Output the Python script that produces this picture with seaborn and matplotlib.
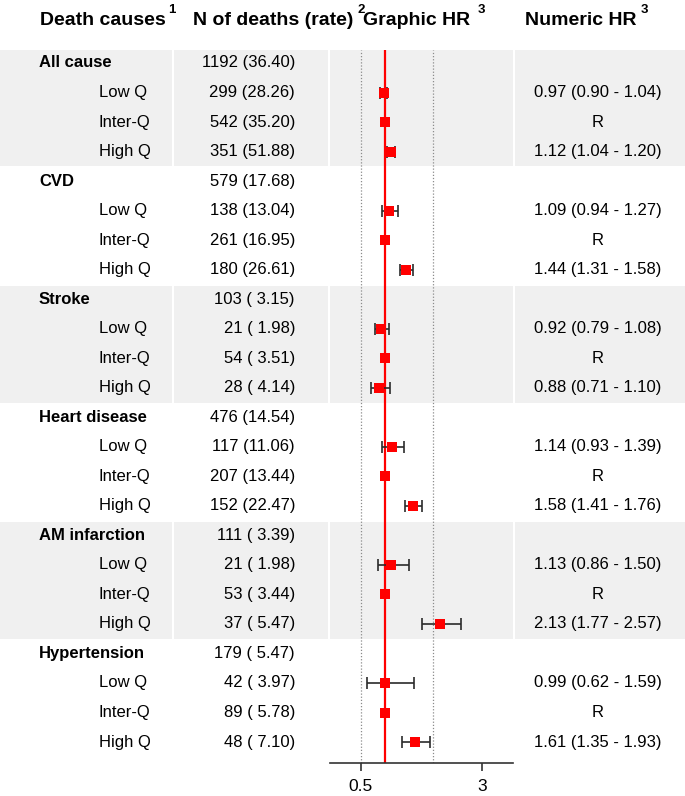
import numpy as np
import pandas as pd
import seaborn as sns
import matplotlib.pyplot as plt

causes = ["All cause", "CVD", "Stroke", "Heart disease", "AM infarction", "Hypertension"]
levels = ["Low Q", "Inter-Q", "High Q"]
cause_deaths = ["1192 (36.40)", "579 (17.68)", "103 ( 3.15)", "476 (14.54)", "111 ( 3.39)", "179 ( 5.47)"]
level_deaths = [
    ["299 (28.26)", "542 (35.20)", "351 (51.88)"],
    ["138 (13.04)", "261 (16.95)", "180 (26.61)"],
    ["21 ( 1.98)", "54 ( 3.51)", "28 ( 4.14)"],
    ["117 (11.06)", "207 (13.44)", "152 (22.47)"],
    ["21 ( 1.98)", "53 ( 3.44)", "37 ( 5.47)"],
    ["42 ( 3.97)", "89 ( 5.78)", "48 ( 7.10)"],
]
# Inter-Q is the reference group (HR = 1)
hr = [[0.97, 1.0, 1.12], [1.09, 1.0, 1.44], [0.92, 1.0, 0.88],
      [1.14, 1.0, 1.58], [1.13, 1.0, 2.13], [0.99, 1.0, 1.61]]
hr_lo = [[0.90, 1.0, 1.04], [0.94, 1.0, 1.31], [0.79, 1.0, 0.71],
         [0.93, 1.0, 1.41], [0.86, 1.0, 1.77], [0.62, 1.0, 1.35]]
hr_hi = [[1.04, 1.0, 1.20], [1.27, 1.0, 1.58], [1.08, 1.0, 1.10],
         [1.39, 1.0, 1.76], [1.50, 1.0, 2.57], [1.59, 1.0, 1.93]]
x_ticks = [0.5, 3]
guide_lines = [0.5, 2]


def build_rows() -> pd.DataFrame:
    rows = []
    for i, cause in enumerate(causes):
        rows.append(dict(label=cause, bold=True, deaths=cause_deaths[i],
                         hr=np.nan, lo=np.nan, hi=np.nan, txt=""))
        for j, lev in enumerate(levels):
            ref = lev == "Inter-Q"
            txt = "R" if ref else f"{hr[i][j]:.2f} ({hr_lo[i][j]:.2f} - {hr_hi[i][j]:.2f})"
            rows.append(dict(label=lev, bold=False, deaths=level_deaths[i][j],
                             hr=hr[i][j], lo=hr_lo[i][j], hi=hr_hi[i][j], txt=txt))
    df = pd.DataFrame(rows)
    df["row"] = np.arange(len(df))
    return df


def main() -> None:
    df = build_rows()
    sns.set_style("white")
    plt.rcParams["font.family"] = ["Liberation Sans", "DejaVu Sans"]
    plt.rcParams["text.color"] = "black"
    plt.rcParams["xtick.color"] = "#333333"
    plt.rcParams["xtick.labelcolor"] = "black"

    W, H = 685, 796
    fig = plt.figure(figsize=(W / 100, H / 100), dpi=100)
    top_px, bot_px = 50, 762.7
    ylim = (23.70, -0.44)
    cols = [(0, 172), (174, 328), (330, 513), (515, 685)]

    axes = []
    for a, b in cols:
        ax = fig.add_axes([a / W, 1 - bot_px / H, (b - a) / W, (bot_px - top_px) / H])
        ax.set_ylim(*ylim)
        for s in ax.spines.values():
            s.set_visible(False)
        ax.set_yticks([])
        for g in range(0, len(df), 8):
            ax.axhspan(g - 0.46, g + 3.5, color="#f0f0f0", lw=0, zorder=0)
        axes.append(ax)

    ax1, ax2, ax3, ax4 = axes
    for ax, (a, b) in zip([ax1, ax2, ax4], [cols[0], cols[1], cols[3]]):
        ax.set_xlim(a, b)
        ax.set_xticks([])

    fs = 12
    for _, r in df.iterrows():
        if r["bold"]:
            ax1.text(39, r["row"], r["label"], fontsize=fs, fontweight="bold", va="center", ha="left")
        else:
            ax1.text(99, r["row"], r["label"], fontsize=fs, va="center", ha="left")
        ax2.text(295, r["row"], r["deaths"], fontsize=fs, va="center", ha="right")
        if r["txt"]:
            ax4.text(598, r["row"], r["txt"], fontsize=fs, va="center", ha="center")

    # forest plot column
    ax3.set_xlim(-0.136, 3.643)
    for g in guide_lines:
        ax3.axvline(g, color="#8c8c8c", lw=0.9, ls=(0, (1, 1.5)), zorder=1)
    ax3.axvline(1, color="red", lw=1.6, zorder=2)
    pts = df.dropna(subset=["hr"])
    ci = pts[pts["lo"] != pts["hi"]]
    ax3.errorbar(ci["hr"], ci["row"], xerr=[ci["hr"] - ci["lo"], ci["hi"] - ci["hr"]],
                 fmt="none", ecolor="#2b2b2b", elinewidth=1.2, capsize=4, capthick=1.2, zorder=3)
    sns.scatterplot(data=pts, x="hr", y="row", marker="s", s=48, color="red",
                    linewidth=0, ax=ax3, zorder=4, legend=False)
    ax3.set_ylim(*ylim)
    ax3.set_xlabel("")
    ax3.set_ylabel("")
    ax3.spines["bottom"].set_visible(True)
    ax3.spines["bottom"].set_color("#333333")
    ax3.spines["bottom"].set_linewidth(1.2)
    ax3.set_xticks(x_ticks)
    ax3.set_xticklabels(["0.5", "3"])
    ax3.tick_params(axis="x", bottom=True, length=5.8, width=1.2, color="#333333",
                    labelcolor="black", labelsize=12.5, pad=6)

    # header
    def ftext(x, y, s, **kw):
        fig.text(x / W, 1 - y / H, s, va="baseline", ha="left", **kw)

    heads = [(40, "Death causes", 168, "1"), (193, "N of deaths (rate)", 357.5, "2"),
             (363, "Graphic HR", 478, "3"), (525, "Numeric HR", 640.5, "3")]
    for x, s, xs, sup in heads:
        ftext(x, 25, s, fontsize=14, fontweight="bold")
        ftext(xs, 13, sup, fontsize=9.5, fontweight="bold")

    fig.savefig("out.png", dpi=100)


if __name__ == "__main__":
    main()
